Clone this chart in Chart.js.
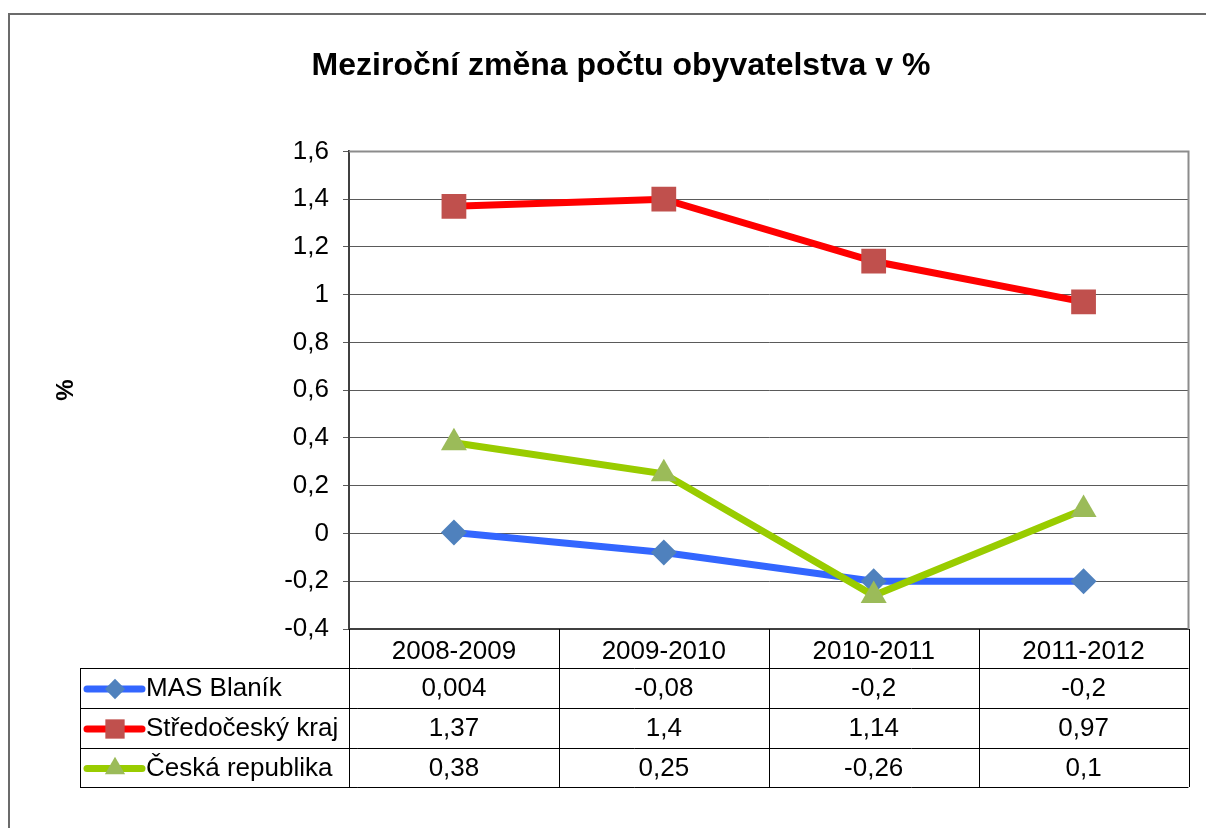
<!DOCTYPE html>
<html>
<head>
<meta charset="utf-8">
<script src="https://cdn.jsdelivr.net/npm/chart.js@4.4.0/dist/chart.umd.min.js"></script>
<style>
  html, body { margin: 0; padding: 0; background: #fff; overflow: hidden; }
  #wrap { width: 1206px; height: 828px; position: relative; }
</style>
</head>
<body>
<div id="wrap"><canvas id="chart" width="1206" height="828"></canvas></div>
<script>
const categories = ['2008-2009', '2009-2010', '2010-2011', '2011-2012'];
const seriesNames = ['MAS Blaník', 'Středočeský kraj', 'Česká republika'];
const masBlanik = [0.004, -0.08, -0.2, -0.2];
const stredocesky = [1.37, 1.4, 1.14, 0.97];
const ceskaRepublika = [0.38, 0.25, -0.26, 0.1];
const yMin = -0.4, yMax = 1.6, yStep = 0.2;

const FONT = "'Liberation Sans', Arial, sans-serif";
const TEXT_SIZE = 26;
const lineColors = ['#3366FF', '#FF0000', '#99CC00'];
const markerColors = ['#4F81BD', '#C0504D', '#9BBB59'];
const markerStyles = ['rectRot', 'rect', 'triangle'];
const markerRadius = [13, 17.5, 15];
const seriesValues = [masBlanik, stredocesky, ceskaRepublika];

// czech number format: decimal comma
const fmt = v => String(Math.round(v * 1000) / 1000).replace('.', ',');

// frame around the whole chart (cut off on the right/bottom)
const framePlugin = {
    id: 'frame',
    beforeDraw(chart) {
        const ctx = chart.ctx;
        ctx.save();
        ctx.strokeStyle = '#6b6b6b';
        ctx.lineWidth = 2;
        ctx.beginPath();
        ctx.moveTo(9, 828);
        ctx.lineTo(9, 14);
        ctx.lineTo(1206, 14);
        ctx.stroke();
        ctx.restore();
    },
    beforeDatasetsDraw(chart) {
        const { ctx, chartArea: a } = chart;
        ctx.save();
        ctx.strokeStyle = '#8c8c8c';
        ctx.lineWidth = 2;
        ctx.beginPath();
        ctx.moveTo(a.left, a.top);
        ctx.lineTo(a.right, a.top);
        ctx.lineTo(a.right, a.bottom);
        ctx.stroke();
        ctx.restore();
    }
};

// data table under the plot, columns follow the x scale
const tablePlugin = {
    id: 'dataTable',
    afterDraw(chart) {
        const { ctx, chartArea: a } = chart;
        const xs = chart.scales.x;
        const colW = (a.right - a.left) / categories.length;
        const top = a.bottom;
        const rows = [top, top + 39, top + 79, top + 119, top + 158];
        const tableLeft = 80;

        ctx.save();
        ctx.strokeStyle = '#000';
        ctx.lineWidth = 1;
        ctx.beginPath();
        for (let i = 1; i < rows.length; i++) {
            ctx.moveTo(tableLeft, rows[i] + 0.5);
            ctx.lineTo(a.right, rows[i] + 0.5);
        }
        for (let i = 0; i <= categories.length; i++) {
            const x = Math.round(a.left + i * colW) + 0.5;
            ctx.moveTo(x, top);
            ctx.lineTo(x, rows[4]);
        }
        ctx.moveTo(tableLeft + 0.5, rows[1]);
        ctx.lineTo(tableLeft + 0.5, rows[4]);
        ctx.stroke();

        ctx.fillStyle = '#000';
        ctx.font = TEXT_SIZE + 'px ' + FONT;
        ctx.textAlign = 'center';
        ctx.textBaseline = 'middle';
        categories.forEach((c, i) => {
            ctx.fillText(c, xs.getPixelForValue(i), (rows[0] + rows[1]) / 2 + 3);
        });
        seriesValues.forEach((vals, s) => {
            const cy = (rows[s + 1] + rows[s + 2]) / 2 + 1;
            vals.forEach((v, i) => ctx.fillText(fmt(v), xs.getPixelForValue(i), cy));

            // legend key
            ctx.strokeStyle = lineColors[s];
            ctx.lineWidth = 7;
            ctx.lineCap = 'round';
            ctx.beginPath();
            ctx.moveTo(87, cy);
            ctx.lineTo(142, cy);
            ctx.stroke();
            ctx.fillStyle = markerColors[s];
            Chart.helpers.drawPoint(ctx, {
                pointStyle: markerStyles[s],
                radius: markerRadius[s] * 0.78,
                rotation: 0,
                borderWidth: 0
            }, 115, cy);
            ctx.fillStyle = '#000';
            ctx.textAlign = 'left';
            ctx.fillText(seriesNames[s], 146, cy);
            ctx.textAlign = 'center';
        });
        ctx.restore();
    }
};

new Chart(document.getElementById('chart'), {
    type: 'line',
    data: {
        labels: categories,
        datasets: seriesValues.map((vals, s) => ({
            label: seriesNames[s],
            data: vals,
            borderColor: lineColors[s],
            borderWidth: 7,
            backgroundColor: markerColors[s],
            pointStyle: markerStyles[s],
            pointRadius: markerRadius[s],
            pointBackgroundColor: markerColors[s],
            pointBorderColor: markerColors[s],
            pointBorderWidth: 0,
            tension: 0,
            order: 2 - s
        }))
    },
    options: {
        responsive: false,
        animation: false,
        devicePixelRatio: 1,
        layout: { padding: { left: 52, right: 16, top: 0, bottom: 199 } },
        plugins: {
            legend: { display: false },
            tooltip: { enabled: false },
            title: {
                display: true,
                text: 'Meziroční změna počtu obyvatelstva v %',
                color: '#000',
                font: { family: FONT, size: 32, weight: 'bold' },
                padding: { top: 47, bottom: 66 }
            }
        },
        scales: {
            x: {
                type: 'category',
                offset: true,
                ticks: { display: false },
                grid: { display: false },
                border: { display: true, color: '#404040', width: 2 },
                afterFit: s => { s.height = 0; }
            },
            y: {
                min: yMin,
                max: yMax,
                ticks: {
                    stepSize: yStep,
                    color: '#000',
                    padding: 14,
                    font: { family: FONT, size: TEXT_SIZE },
                    callback: v => fmt(Math.round(v * 10) / 10)
                },
                grid: { color: '#5a5a5a', lineWidth: 1, tickLength: 6 },
                border: { display: true, color: '#404040', width: 2 },
                title: {
                    display: true,
                    text: '%',
                    color: '#000',
                    font: { family: FONT, size: 24, weight: 'bold' },
                    padding: 0
                },
                afterFit: s => { s.width = 297; }
            }
        }
    },
    plugins: [framePlugin, tablePlugin]
});
</script>
</body>
</html>
